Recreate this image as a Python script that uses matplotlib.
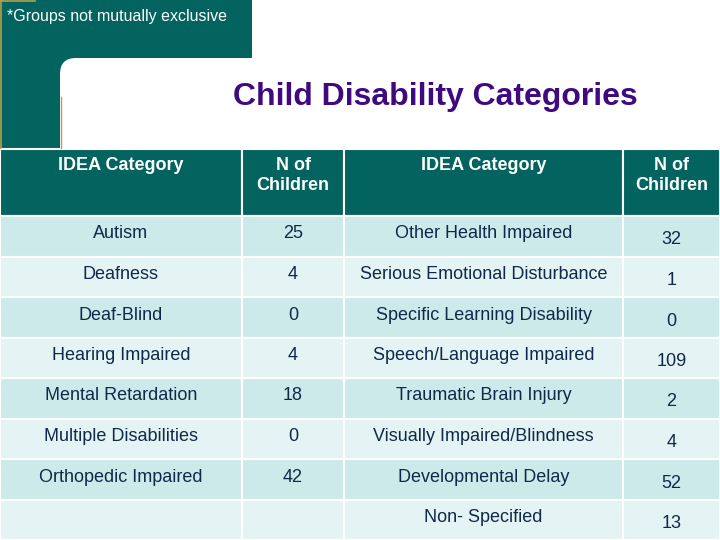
import matplotlib.pyplot as plt
from matplotlib.patches import Rectangle, FancyBboxPatch

plt.rcParams['font.family'] = ['Liberation Sans', 'DejaVu Sans']

# table data
left_categories = ["Autism", "Deafness", "Deaf-Blind", "Hearing Impaired",
                   "Mental Retardation", "Multiple Disabilities", "Orthopedic Impaired", ""]
left_counts = ["25", "4", "0", "4", "18", "0", "42", ""]
right_categories = ["Other Health Impaired", "Serious Emotional Disturbance",
                    "Specific Learning Disability", "Speech/Language Impaired",
                    "Traumatic Brain Injury", "Visually Impaired/Blindness",
                    "Developmental Delay", "Non- Specified"]
right_counts = ["32", "1", "0", "109", "2", "4", "52", "13"]
headers = ["IDEA Category", "N of\nChildren", "IDEA Category", "N of\nChildren"]

teal = "#02635f"
gold = "#b8a04a"
row_dark = "#cdeaea"
row_light = "#e4f3f3"
text_col = "#10294a"

fig = plt.figure(figsize=(7.2, 5.4), dpi=100)
ax = fig.add_axes([0, 0, 1, 1])
ax.set_xlim(0, 720)
ax.set_ylim(540, 0)
ax.axis("off")

# decorative corner block
ax.add_patch(Rectangle((0, 0), 252, 58, color=teal, lw=0))
ax.add_patch(Rectangle((0, 0), 60, 150, color=teal, lw=0))
ax.add_patch(Rectangle((60, 58), 25, 25, color=teal, lw=0))
ax.add_patch(FancyBboxPatch((60, 58), 700, 200, boxstyle="round,pad=0,rounding_size=16",
                            fc="white", ec="none"))
ax.plot([1, 1], [0, 148], color=gold, lw=1.2)
ax.plot([0, 35], [0.5, 0.5], color=gold, lw=1.2)
ax.plot([60.5, 60.5], [97, 148], color=gold, lw=1)
ax.text(7, 16, "*Groups not mutually exclusive", color="white", fontsize=11.5,
        va="center", ha="left")

ax.text(435, 97, "Child Disability Categories", color="#3f0a80", fontsize=23,
        fontweight="bold", ha="center", va="center")

# table
col_edges = [0, 242, 344, 623, 720]
table_top = 149
header_h = 67
row_h = 40.5

for j, h in enumerate(headers):
    x0, x1 = col_edges[j], col_edges[j + 1]
    ax.add_patch(Rectangle((x0, table_top), x1 - x0, header_h, fc=teal, ec="white", lw=1.5))
    ax.text((x0 + x1) / 2, table_top + 8, h, color="white", fontsize=13,
            fontweight="bold", ha="center", va="top", linespacing=1.2)

columns = [left_categories, left_counts, right_categories, right_counts]
n_rows = len(left_categories)
for i in range(n_rows):
    y0 = table_top + header_h + i * row_h
    fc = row_dark if i % 2 == 0 else row_light
    for j, col in enumerate(columns):
        x0, x1 = col_edges[j], col_edges[j + 1]
        ax.add_patch(Rectangle((x0, y0), x1 - x0, row_h, fc=fc, ec="white", lw=1.5))
        dy = 24 if j == 3 else 18
        ax.text((x0 + x1) / 2, y0 + dy, col[i], color=text_col, fontsize=13,
                ha="center", va="center")

fig.savefig("out.png", dpi=100)
